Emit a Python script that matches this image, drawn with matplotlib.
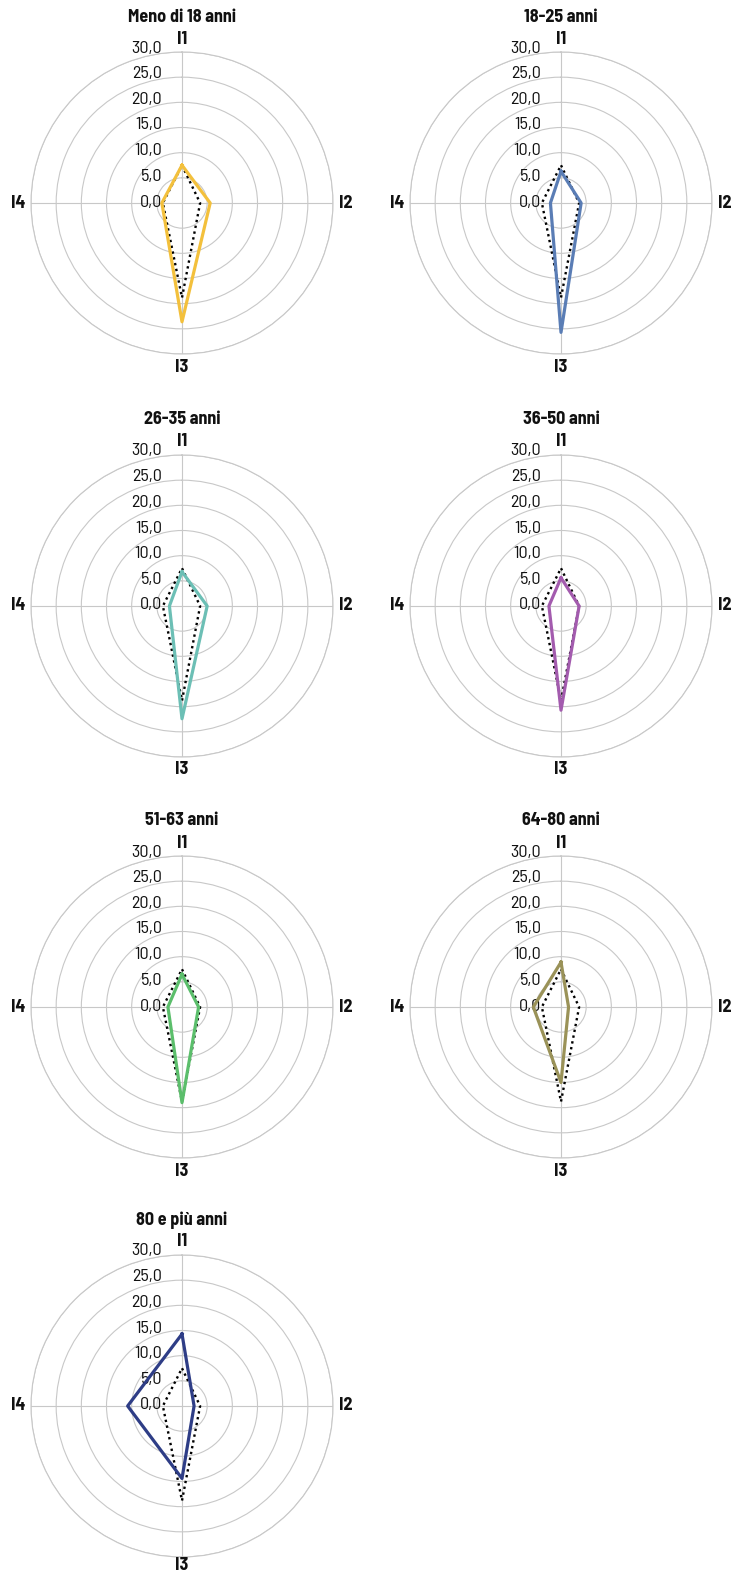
import numpy as np
import matplotlib
matplotlib.use("Agg")
import matplotlib.pyplot as plt

# --- data -----------------------------------------------------------------
indicatori = ["I1", "I2", "I3", "I4"]
gruppi = ["Meno di 18 anni", "18-25 anni", "26-35 anni", "36-50 anni",
          "51-63 anni", "64-80 anni", "80 e più anni"]

meno_18 = [7.5, 5.6, 23.6, 4.0]
anni_18_25 = [6.3, 4.0, 25.7, 2.1]
anni_26_35 = [6.8, 5.0, 22.4, 2.5]
anni_36_50 = [5.6, 3.6, 20.7, 2.4]
anni_51_63 = [6.5, 3.3, 19.0, 2.8]
anni_64_80 = [8.9, 1.5, 15.0, 5.5]
anni_80_piu = [14.3, 2.4, 14.4, 10.8]
totale = [7.5, 3.6, 18.8, 3.8]          # dotted reference in every chart

serie = [meno_18, anni_18_25, anni_26_35, anni_36_50, anni_51_63, anni_64_80, anni_80_piu]
colori = ["#F3C03C", "#5A7DB5", "#6CBFB5", "#A35BAE", "#5BBE6B", "#9A9258", "#2E3D86"]
ticks_r = [0, 5, 10, 15, 20, 25, 30]

# --- layout (pixels) -------------------------------------------------------
W, H = 740, 1575
R = 151
centri = [(182, 203), (561, 203), (182, 606), (561, 606),
          (182, 1007), (561, 1007), (182, 1406)]

# condensed face like the original; falls back to DejaVu if missing
plt.rcParams["font.family"] = ["Barlow Semi Condensed", "DejaVu Sans"]
GRID = "#C8C8C8"
PX = 72 / 100  # points per pixel at dpi=100

fig = plt.figure(figsize=(W / 100, H / 100), dpi=100)
theta = np.deg2rad([0, 90, 180, 270])

for nome, vals, col, (cx, cy) in zip(gruppi, serie, colori, centri):
    ax = fig.add_axes([(cx - R) / W, (H - cy - R) / H, 2 * R / W, 2 * R / H],
                      projection="polar")
    ax.set_theta_zero_location("N")
    ax.set_theta_direction(-1)
    ax.set_ylim(0, 30)
    ax.set_yticks(ticks_r[1:])
    ax.set_yticklabels([])
    ax.set_xticks(theta)
    ax.set_xticklabels([])
    ax.grid(True, color=GRID, lw=0.8)
    ax.spines["polar"].set_color(GRID)
    ax.spines["polar"].set_linewidth(0.8)
    ax.tick_params(length=0)
    ax.patch.set_alpha(0)

    t = np.append(theta, theta[0])
    ax.plot(t, totale + totale[:1], color="black", lw=1.7, ls=(0, (1, 1.5)), zorder=3)
    ax.plot(t, vals + vals[:1], color=col, lw=2.3, zorder=4)

    for r in ticks_r:
        ax.annotate(f"{r:.1f}".replace(".", ","), xy=(0, r),
                    xytext=(-20 * PX, (1 + r / 10) * PX), textcoords="offset points",
                    ha="right", va="center", fontsize=13,
                    color="#111111", annotation_clip=False)

    # keep the bottom label inside the figure for the last row
    dy_bot = -13 if cy + R + 22 < H else -H + cy + R + 9
    offs = [(0, 13), (13, 0), (0, dy_bot), (-13, 0)]
    for ang, lab, (dx, dy) in zip(theta, indicatori, offs):
        ax.annotate(lab, xy=(ang, 30), xytext=(dx * PX, dy * PX),
                    textcoords="offset points", ha="center", va="center",
                    fontsize=13, fontweight="bold", color="#111111",
                    annotation_clip=False)

    fig.text(cx / W, 1 - (cy - 186) / H, nome, ha="center", va="center",
             fontsize=13, fontweight="bold", color="#111111")

fig.savefig("out.png", dpi=100)
